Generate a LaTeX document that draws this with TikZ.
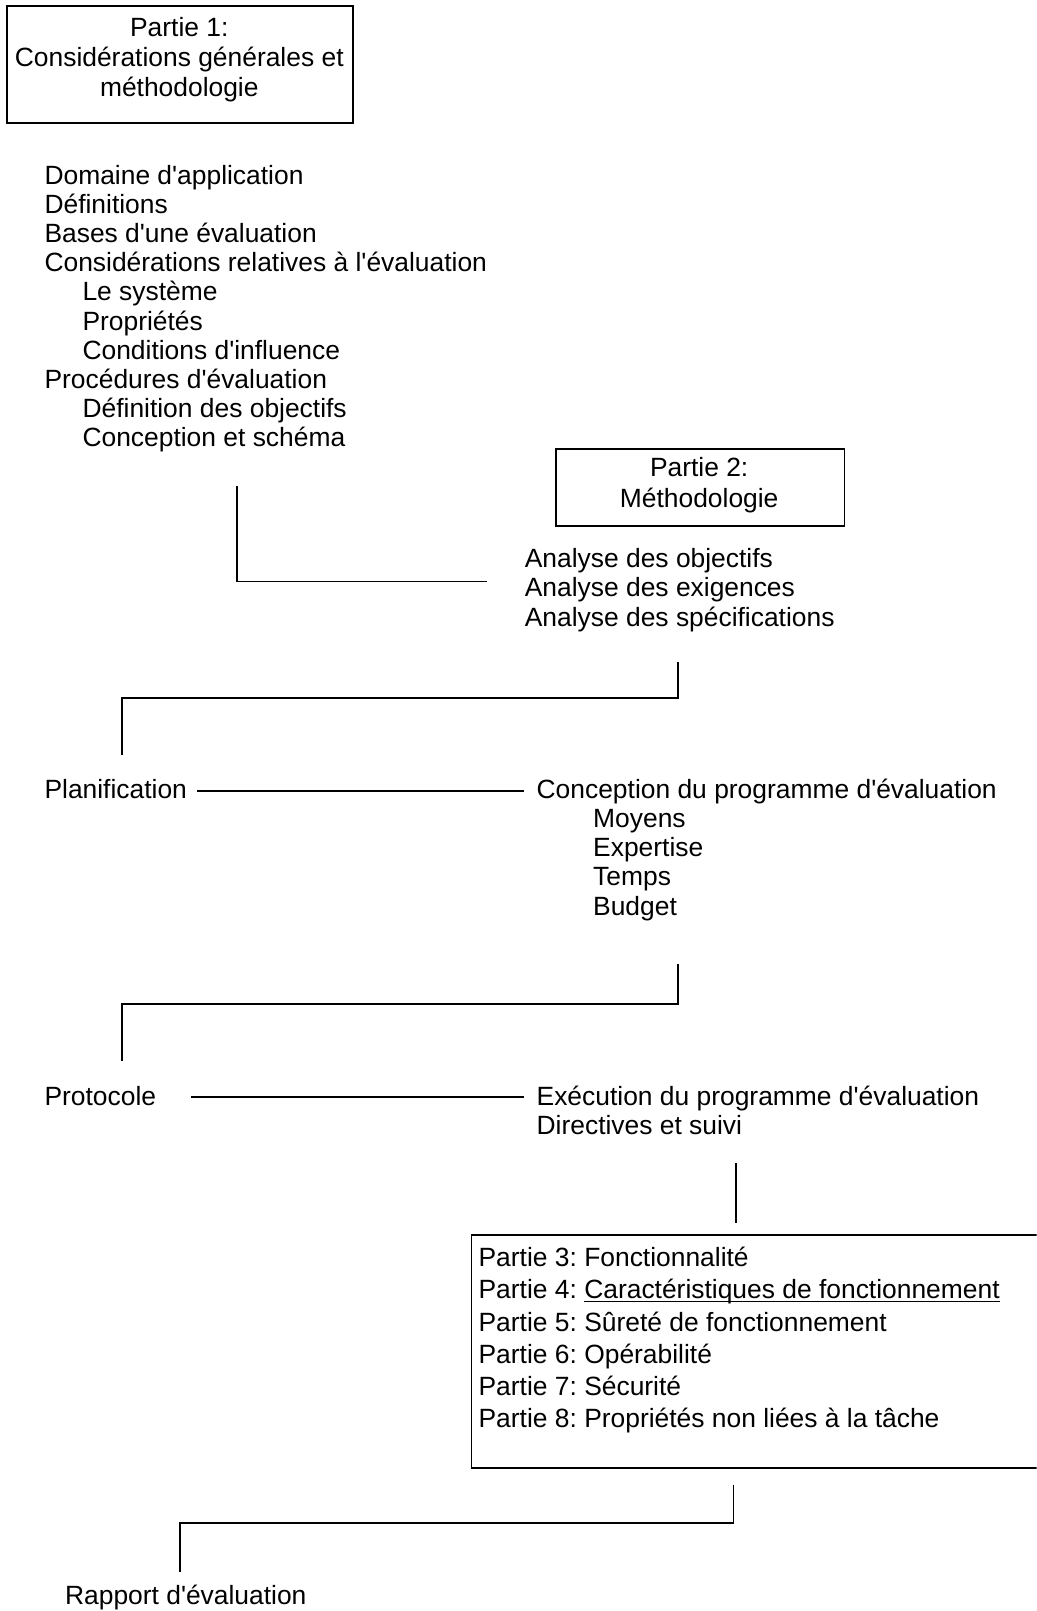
\documentclass[tikz,border=0pt]{standalone}
\usepackage{fontspec}
\setmainfont{Liberation Sans}[Ligatures=TeXOff]
\newcommand{\ulx}[1]{\setbox0\hbox{#1}\rlap{\rule[-3.4pt]{\wd0}{1.5pt}}\box0}
\begin{document}
\begin{tikzpicture}[x=1pt,y=-1pt,line width=1.7pt,
  txt/.style={anchor=base west,inner sep=0pt,font=\fontsize{25.7pt}{28.4pt}\selectfont\frenchspacing},
  ctxt/.style={txt,anchor=base},
  frame/.style={draw,line width=1.7pt,inner sep=0pt,anchor=north west}]
\useasboundingbox (0,0) rectangle (1009,1568);
\clip (0,0) rectangle (1009,1568);

% Box 1
\node[frame,minimum width=337pt,minimum height=114pt] (box1) at (6,5) {};
\node[ctxt] (p1a) at (174.5,35.7) {Partie 1:};
\node[ctxt] (p1b) at (174.5,64.9) {Considérations générales et};
\node[ctxt] (p1c) at (174.5,94.1) {méthodologie};

% List 1
\node[txt] (l1) at (42.5,179.3) {Domaine d'application};
\node[txt] (l2) at (42.5,207.7) {Définitions};
\node[txt] (l3) at (42.5,236.0) {Bases d'une évaluation};
\node[txt] (l4) at (42.5,264.4) {Considérations relatives à l'évaluation};
\node[txt] (l5) at (79.5,292.8) {Le système};
\node[txt] (l6) at (79.5,321.2) {Propriétés};
\node[txt] (l7) at (79.5,349.5) {Conditions d'influence};
\node[txt] (l8) at (42.5,377.9) {Procédures d'évaluation};
\node[txt] (l9) at (79.5,406.3) {Définition des objectifs};
\node[txt] (l10) at (79.5,434.6) {Conception et schéma};

% Box 2
\node[frame,minimum width=281pt,minimum height=75pt] (box2) at (540,436) {};
\node[ctxt] (p2a) at (680.5,464) {Partie 2:};
\node[ctxt] (p2b) at (680.5,494) {Méthodologie};

% Connector A
\coordinate (a1) at (231,473);
\coordinate (a2) at (474,566);
\draw (a1) |- (a2);

% Analyse list
\node[txt] (an1) at (510,552.5) {Analyse des objectifs};
\node[txt] (an2) at (510,580.9) {Analyse des exigences};
\node[txt] (an3) at (510,609.3) {Analyse des spécifications};

% Connector B
\coordinate (b1) at (660,644);
\coordinate (b2) at (660,679);
\coordinate (b3) at (119,735);
\draw (b1) -- (b2) -| (b3);

% Planification row
\node[txt] (plan) at (42.5,777) {Planification};
\node[txt] (conc) at (521.5,777) {Conception du programme d'évaluation};
\node[txt] (moy) at (576.5,805.4) {Moyens};
\node[txt] (exp) at (576.5,833.8) {Expertise};
\node[txt] (tmp) at (576.5,862.2) {Temps};
\node[txt] (bud) at (576.5,890.6) {Budget};
\coordinate (pl1) at (192,770);
\coordinate (pl2) at (510,770);
\draw (pl1) -- (pl2);

% Connector C
\coordinate (c1) at (660,938);
\coordinate (c2) at (660,977);
\coordinate (c3) at (119,1033);
\draw (c1) -- (c2) -| (c3);

% Protocole row
\node[txt] (prot) at (42.5,1076) {Protocole};
\node[txt] (exe) at (521.5,1076) {Exécution du programme d'évaluation};
\node[txt] (dir) at (521.5,1104.5) {Directives et suivi};
\coordinate (pr1) at (186,1068);
\coordinate (pr2) at (510,1068);
\draw (pr1) -- (pr2);

% Connector D
\coordinate (d1) at (716,1132);
\coordinate (d2) at (716,1190);
\draw (d1) -- (d2);

% Box 3
\node[frame,minimum width=600pt,minimum height=227pt] (box3) at (458,1201) {};
\node[txt] (p3) at (465,1233) {Partie 3: Fonctionnalité};
\node[txt] (p4) at (465,1264.3) {Partie 4: \ulx{Caractéristiques de fonctionnement}};
\node[txt] (p5) at (465,1295.6) {Partie 5: Sûreté de fonctionnement};
\node[txt] (p6) at (465,1326.9) {Partie 6: Opérabilité};
\node[txt] (p7) at (465,1358.2) {Partie 7: Sécurité};
\node[txt] (p8) at (465,1389.5) {Partie 8: Propriétés non liées à la tâche};

% Connector E
\coordinate (e1) at (714,1445);
\coordinate (e2) at (714,1482);
\coordinate (e3) at (175,1530);
\draw (e1) -- (e2) -| (e3);

% Rapport
\node[txt] (rap) at (62.5,1561.7) {Rapport d'évaluation};
\end{tikzpicture}
\end{document}
